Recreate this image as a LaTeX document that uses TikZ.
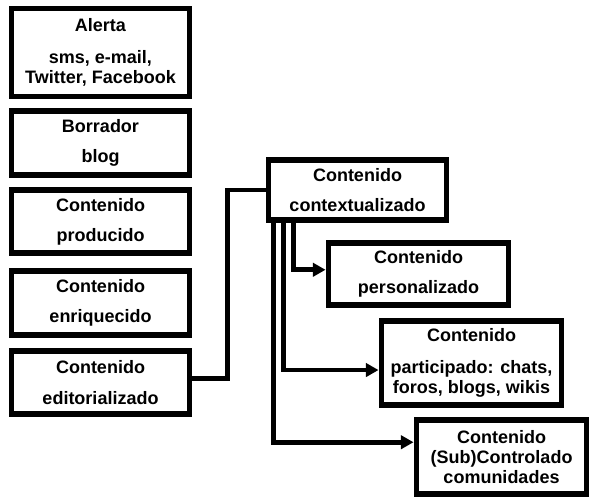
\documentclass[tikz,border=0pt]{standalone}
\usepackage{fontspec}
\setmainfont{Liberation Sans}
\usetikzlibrary{arrows.meta}
\tikzset{
    mybox/.style = {rectangle, draw=black, line width=4.2pt, fill=white, align=center, inner sep=2pt, font=\fontsize{12.8}{14.5}\selectfont\bfseries},
    edgen/.style = {line width=3.4pt, draw=black},
    edgea/.style = {-{Triangle[length=9pt,width=9.5pt]}, line width=3.4pt, draw=black},
}
\begin{document}
\begin{tikzpicture}[x=0.025cm,y=-0.025cm]
\path[use as bounding box] (0,0) rectangle (592,498);
%
\node[mybox, minimum width=4.45cm, minimum height=2.2cm] at (100.5,52.5) (alerta) {Alerta\\[8pt]sms, e-mail,\\Twitter, Facebook};
\node[mybox, minimum width=4.45cm, minimum height=1.6cm] at (100.5,143) (borrador) {Borrador\\[7pt]blog};
\node[mybox, minimum width=4.45cm, minimum height=1.575cm] at (100.5,221.5) (prod) {Contenido\\[7pt]producido};
\node[mybox, minimum width=4.45cm, minimum height=1.6cm] at (100.5,303) (enriq) {Contenido\\[7pt]enriquecido};
\node[mybox, minimum width=4.45cm, minimum height=1.575cm] at (100.5,382.5) (edit) {Contenido\\[7pt]editorializado};
%
\node[mybox, minimum width=4.45cm, minimum height=1.5cm] at (357.5,190) (ctx) {Contenido\\[7pt]contextualizado};
\node[mybox, minimum width=4.5cm, minimum height=1.55cm] at (418.5,274) (pers) {Contenido\\[7pt]personalizado};
\node[mybox, minimum width=4.5cm, minimum height=2.1cm] at (471.5,363) (part) {Contenido\\[8pt]participado: chats,\\foros, blogs, wikis};
\node[mybox, minimum width=4.25cm, minimum height=1.85cm] at (501.5,457) (sub) {Contenido\\(Sub)Controlado\\comunidades};
%
\draw[edgen] ([yshift=3pt]edit.east) -- ++(35,0) |- (ctx.west);
\draw[edgea] (ctx.south west) ++(28,0) |- ([yshift=3pt]pers.west);
\draw[edgea] (ctx.south west) ++(18,0) |- ([yshift=-5pt]part.west);
\draw[edgea] (ctx.south west) ++(8,0) |- ([yshift=10.5pt]sub.west);

\end{tikzpicture}
\end{document}
